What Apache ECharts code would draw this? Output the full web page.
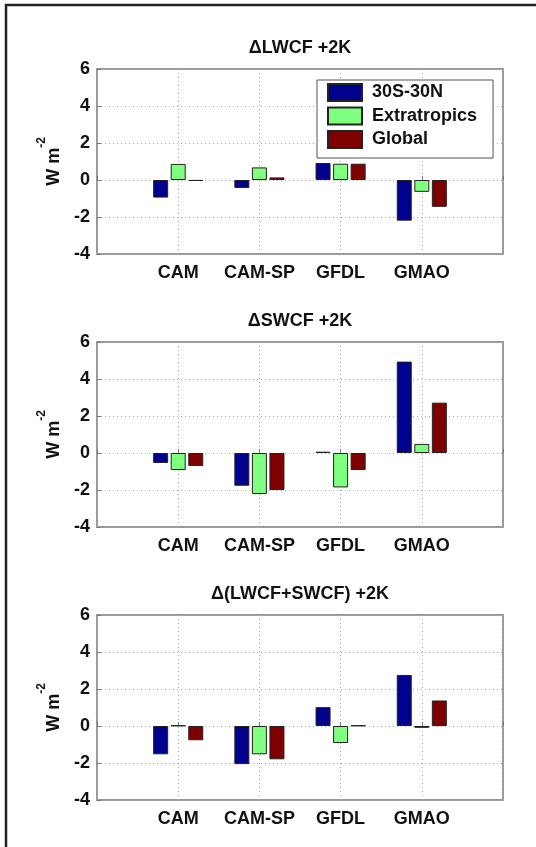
<!DOCTYPE html>
<html lang="en">
<head>
    <meta charset="UTF-8">
    <title>Cloud forcing change +2K</title>
    <script src="https://cdn.jsdelivr.net/npm/echarts@6/dist/echarts.min.js"></script>
    <style>
        body { margin: 0; background: #fff; }
        #chart { width: 536px; height: 847px; }
    </style>
</head>
<body>
<div id="chart"></div>

<script>
    // models along the x axis
    var models = ['CAM', 'CAM-SP', 'GFDL', 'GMAO'];
    var regions = ['30S-30N', 'Extratropics', 'Global'];
    var yTicks = [-4, -2, 0, 2, 4, 6];

    // ΔLWCF +2K
    var lwTrop = [-0.95, -0.43, 0.92, -2.2];
    var lwExt = [0.87, 0.68, 0.88, -0.64];
    var lwGlob = [-0.05, 0.14, 0.88, -1.45];

    // ΔSWCF +2K
    var swTrop = [-0.54, -1.77, 0.07, 4.94];
    var swExt = [-0.92, -2.22, -1.86, 0.49];
    var swGlob = [-0.7, -2.0, -0.92, 2.72];

    // Δ(LWCF+SWCF) +2K
    var netTrop = [-1.53, -2.06, 1.02, 2.76];
    var netExt = [0.03, -1.53, -0.92, -0.1];
    var netGlob = [-0.77, -1.8, 0.03, 1.38];

    var titles = ['\u0394LWCF +2K', '\u0394SWCF +2K', '\u0394(LWCF+SWCF) +2K'];
    var panels = [
        [lwTrop, lwExt, lwGlob],
        [swTrop, swExt, swGlob],
        [netTrop, netExt, netGlob]
    ];
    var colors = ['#00008f', '#80ff80', '#800000'];
    var gridTops = [69, 342, 615];
    var family = '"Liberation Sans", Arial, sans-serif';
    var font = 'bold 18px ' + family;

    var chart = echarts.init(document.getElementById('chart'));

    var grids = [], xAxes = [], yAxes = [], series = [], graphics = [];
    panels.forEach(function (panel, p) {
        grids.push({
            left: 97, right: 33, top: gridTops[p], height: 185,
            show: true, borderColor: '#999', borderWidth: 2
        });
        xAxes.push({
            type: 'value', gridIndex: p, min: 0, max: 5, interval: 1,
            axisLine: {show: false},
            axisTick: {inside: true, length: 4, lineStyle: {color: '#777'}},
            splitLine: {show: true, lineStyle: {color: '#aaa', type: [1, 3]}},
            axisLabel: {
                margin: 10, color: '#111', fontSize: 18, fontWeight: 'bold', fontFamily: family,
                formatter: function (v) { return models[v - 1] || ''; }
            }
        });
        yAxes.push({
            type: 'value', gridIndex: p, min: yTicks[0], max: yTicks[yTicks.length - 1], interval: 2,
            axisLine: {show: false},
            axisTick: {show: true, inside: true, length: 4, lineStyle: {color: '#777'}},
            splitLine: {show: true, lineStyle: {color: '#aaa', type: [1, 3]}},
            axisLabel: {margin: 7, color: '#111', fontSize: 18, fontWeight: 'bold', fontFamily: family},
            name: '{n|W m}{s|-2}',
            nameLocation: 'middle',
            nameRotate: 90,
            nameGap: 31,
            nameTextStyle: {
                rich: {
                    n: {fontSize: 18, fontWeight: 'bold', color: '#111', verticalAlign: 'bottom', fontFamily: family},
                    s: {fontSize: 12, fontWeight: 'bold', color: '#111', verticalAlign: 'top', lineHeight: 27, fontFamily: family}
                }
            }
        });
        panel.forEach(function (vals, k) {
            series.push({
                name: regions[k],
                type: 'bar',
                xAxisIndex: p,
                yAxisIndex: p,
                barWidth: 15,
                barGap: '17%',
                data: vals.map(function (v, i) { return [i + 1, v]; }),
                itemStyle: {color: colors[k], borderColor: '#222', borderWidth: 1},
                silent: true
            });
        });
        graphics.push({
            type: 'text', x: 300, y: gridTops[p] - 21,
            style: {text: titles[p], font: font, fill: '#111', textAlign: 'center', textVerticalAlign: 'middle'}
        });
    });

    // outer frame (left and top edges visible)
    graphics.push({
        type: 'polyline',
        shape: {points: [[6, 847], [6, 5], [536, 5]]},
        style: {stroke: '#222', lineWidth: 2.5, fill: null}
    });

    var option = {
        animation: false,
        grid: grids,
        xAxis: xAxes,
        yAxis: yAxes,
        series: series,
        legend: {
            data: regions.map(function (r) { return {name: r, icon: 'rect'}; }),
            orient: 'vertical',
            left: 317, top: 80,
            itemWidth: 34, itemHeight: 17, itemGap: 4.5,
            padding: [3, 16, 9, 10],
            backgroundColor: '#fff',
            borderColor: '#555', borderWidth: 1,
            selectedMode: false,
            textStyle: {fontSize: 18, fontWeight: 'bold', color: '#111', padding: [0, 0, 0, 5], fontFamily: family}
        },
        graphic: graphics
    };

    chart.setOption(option);
</script>
</body>
</html>
